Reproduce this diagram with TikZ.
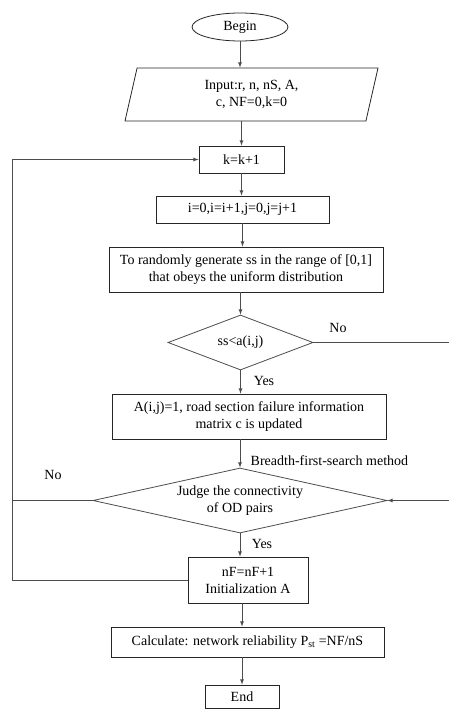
\documentclass[tikz,border=0pt]{standalone}
\usepackage{fontspec}
\setmainfont{Liberation Serif}
\usetikzlibrary{shapes.geometric}

\begin{document}
\begin{tikzpicture}[x=1pt,y=-1pt,line width=0.8pt,>=latex,
  every node/.style={font=\fontsize{14}{17}\selectfont},
  box/.style={draw=black!85,rectangle,align=center,inner sep=2pt},
  io/.style={draw=black!85,trapezium,trapezium left angle=71,trapezium right angle=109,
    trapezium stretches body,align=center},
  term/.style={draw=black!85,ellipse},
  test/.style={draw=black!70,diamond,align=center,inner sep=0pt},
  link/.style={->,draw=black!70}]
\useasboundingbox (0,0) rectangle (448,709);
\node[term,minimum width=96pt,minimum height=28pt] (begin) at (240,27) {Begin};
\node[io,minimum width=253pt,minimum height=53pt] (input) at (251.5,94.5) {Input:r, n, nS, A,\\ c, NF=0,k=0};
\node[box,minimum width=85pt,minimum height=27pt] (kk) at (241.5,159.5) {k=k+1};
\node[box,minimum width=173pt,minimum height=27pt] (ij) at (242.5,209.5) {i=0,i=i+1,j=0,j=j+1};
\node[box,minimum width=274pt,minimum height=45pt] (gen) at (246,269.5) {To randomly generate ss in the range of [0,1]\\ that obeys the uniform distribution};
\node[test,aspect=2.6,minimum width=145pt,minimum height=55pt] (ss) at (240.5,342.5) {ss<a(i,j)};
\node[box,minimum width=274pt,minimum height=45pt] (upd) at (249,416.5) {A(i,j)=1, road section failure information\\ matrix c is updated};
\node[test,aspect=4.5,minimum width=294pt,minimum height=65pt] (judge) at (240,500.5) {Judge the connectivity\\ of OD pairs};
\node[box,minimum width=120pt,minimum height=46pt] (nf) at (248,580) {nF=nF+1\\ Initialization A};
\node[box,minimum width=273pt,minimum height=30pt] (calc) at (247.5,642) {Calculate: network reliability P\textsubscript{st} =NF/nS};
\node[box,minimum width=74pt,minimum height=23pt] (end) at (242,696.5) {End};
\node (noA) at (338,328) {No};
\node (yesA) at (264,381) {Yes};
\node[anchor=west] (bfs) at (247,461) {Breadth-first-search method};
\node (noB) at (53,475) {No};
\node (yesB) at (262,544) {Yes};
\coordinate (lft) at (12,0);
\coordinate (rgt) at (452,0);
\draw[link] (begin) -- (begin |- input.north);
\draw[link] (kk.north |- input.south) -- (kk.north);
\draw[link] (kk.south) -- (kk.south |- ij.north);
\draw[link] (ij.south) -- (ij.south |- gen.north);
\draw[link] (ss.north |- gen.south) -- (ss.north);
\draw[link] (ss.south) -- (ss.south |- upd.north);
\draw[link] (judge.north |- upd.south) -- (judge.north);
\draw[link] (judge.south) -- (judge.south |- nf.north);
\draw[link] (end.north |- nf.south) -- (end.north |- calc.north);
\draw[link] (end.north |- calc.south) -- (end.north);
\draw[link] (nf.west) -- (nf.west -| lft) |- (kk.west);
\draw[draw=black!70] (judge.west) -- (judge.west -| lft);
\draw[link] (ss.east) -- (ss.east -| rgt) -- (judge.east -| rgt) -- (judge.east);
\end{tikzpicture}
\end{document}
